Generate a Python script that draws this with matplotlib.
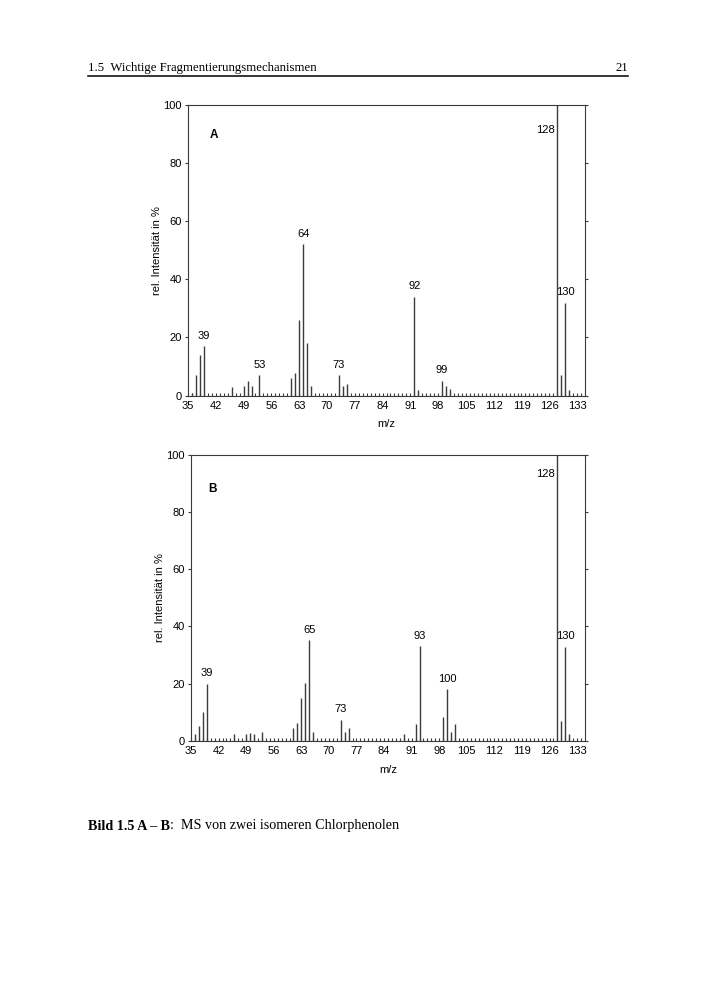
"""MS spectra of two isomeric chlorophenols (Bild 1.5 A - B)."""

import matplotlib.pyplot as plt
import numpy as np

plt.rcParams["font.family"] = ["Liberation Sans", "DejaVu Sans"]

# spectrum A
MZ_A = [36, 37, 38, 39, 46, 49, 50, 51, 53, 61, 62, 63, 64, 65, 66,
        73, 74, 75, 92, 93, 99, 100, 101, 128, 129, 130, 131]
INT_A = [1, 7, 14, 17, 3, 3.2, 5, 3.1, 7, 6.1, 7.8, 26, 52, 18, 3.4,
         7, 3.2, 4.1, 34, 2, 5, 3.1, 2.2, 100, 7, 32, 2]
LABELS_A = [39, 53, 64, 73, 92, 99, 130]

# spectrum B
MZ_B = [36, 37, 38, 39, 46, 49, 50, 51, 53, 61, 62, 63, 64, 65, 66,
        73, 74, 75, 89, 92, 93, 99, 100, 101, 102, 128, 129, 130, 131]
INT_B = [2.2, 5, 10, 20, 2.2, 2.2, 2.8, 2.2, 3, 4.3, 6.3, 15, 20.3, 35.2, 3,
         7.3, 3, 4.3, 2.2, 6, 33.1, 8.2, 18, 2.9, 5.8, 100, 6.9, 32.9, 2.3]
LABELS_B = [39, 65, 73, 93, 100, 130]

XTICKS = list(range(35, 134, 7))
YTICKS = [0, 20, 40, 60, 80, 100]

W, H = 708, 1000
FRAME = "#3a3a3a"
BAR = "#3c3c3c"


def spectrum(fig, rect, mz, inten, labels, tag, tag_xy, base_xy):
    ax = fig.add_axes(rect)
    ax.vlines(mz, 0, inten, color=BAR, linewidth=1.0)
    ax.set_xlim(35, 135)
    ax.set_ylim(0, 100)
    ax.set_xticks(XTICKS)
    ax.set_xticks(np.arange(36, 135), minor=True)
    ax.set_yticks(YTICKS)
    ax.tick_params(axis="x", which="major", direction="in", length=2, width=0.8,
                   color=FRAME, labelsize=8, pad=4)
    ax.tick_params(axis="x", which="minor", direction="in", length=2, width=0.8, color=FRAME)
    ax.tick_params(axis="y", which="major", direction="out", length=2.5, width=0.8,
                   color=FRAME, labelsize=8, pad=2, right=True)
    for s in ax.spines.values():
        s.set_linewidth(0.8)
        s.set_color(FRAME)
    ax.set_xlabel("m/z", fontsize=8, labelpad=6)
    ax.set_ylabel("rel. Intensität in %", fontsize=8, labelpad=1)
    lookup = dict(zip(mz, inten))
    for m in labels:
        ax.annotate(str(m), (m, lookup[m]), xytext=(0, 4), textcoords="offset points",
                    ha="center", va="bottom", fontsize=8)
    ax.text(base_xy[0], base_xy[1], "128", ha="right", va="center", fontsize=8)
    ax.text(tag_xy[0], tag_xy[1], tag, ha="center", va="center", fontsize=8.5, weight="bold")
    return ax


fig = plt.figure(figsize=(W / 100, H / 100), dpi=100)

spectrum(fig, [188 / W, 1 - 395.5 / H, 397 / W, 290.5 / H],
         MZ_A, INT_A, LABELS_A, "A", (41.5, 89.7), (127.4, 91.5))
spectrum(fig, [191 / W, 1 - 740.7 / H, 394 / W, 285.7 / H],
         MZ_B, INT_B, LABELS_B, "B", (40.4, 88.1), (127.4, 93.3))

# page header and caption
serif = ["Liberation Serif", "DejaVu Serif"]
fig.text(88 / W, 1 - 68 / H, "1.5  Wichtige Fragmentierungsmechanismen",
         family=serif, fontsize=9.2, va="center", ha="left")
fig.text(628 / W, 1 - 68 / H, "21", family=serif, fontsize=9.2, va="center", ha="right")
fig.add_artist(plt.Line2D([88 / W, 628 / W], [1 - 76 / H, 1 - 76 / H],
                          color="black", linewidth=1.1))

bold = fig.text(88 / W, 1 - 826 / H, "Bild 1.5 A – B", family=serif, fontsize=10.2,
                weight="bold", va="center", ha="left")
renderer = fig.canvas.get_renderer()
x_end = bold.get_window_extent(renderer).x1 / W
fig.text(x_end, 1 - 826 / H, ":  MS von zwei isomeren Chlorphenolen", family=serif,
         fontsize=10.2, va="center", ha="left")

fig.savefig("out.png", dpi=100, facecolor="white")
